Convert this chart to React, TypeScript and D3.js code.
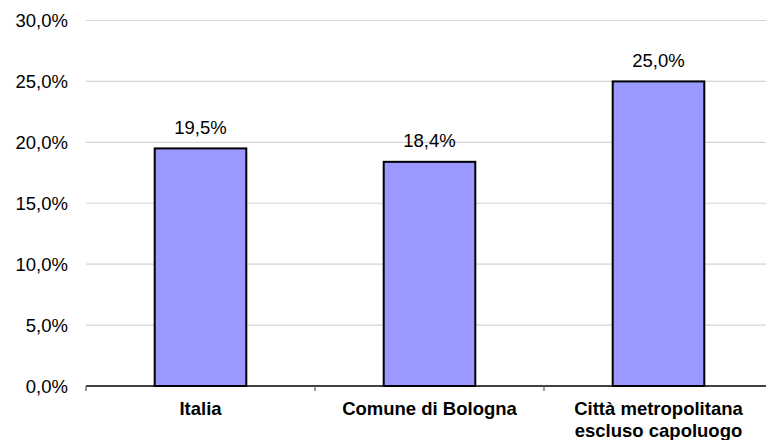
import React from "react";
import * as d3 from "d3";

const categories = ["Italia", "Comune di Bologna", "Città metropolitana\nescluso capoluogo"];
const values = [0.195, 0.184, 0.25];
const yTicks = [0, 0.05, 0.1, 0.15, 0.2, 0.25, 0.3];

const W = 766;
const H = 440;
const FONT = "'Liberation Sans', Arial, sans-serif";

const itLocale = d3.formatLocale({
  decimal: ",",
  thousands: ".",
  grouping: [3],
  currency: ["", " €"],
});
const pct = itLocale.format(".1%");

export default function App() {
  const left = 86;
  const right = 773;
  const y = d3.scaleLinear().domain([0, 0.3]).range([386, 20.5]);
  const x = d3
    .scaleBand<string>()
    .domain(categories)
    .range([left, right])
    .paddingInner(0.6)
    .paddingOuter(0.3);
  const step = x.step();
  const bw = x.bandwidth();
  const boundaries = d3.range(categories.length + 1).map((i) => left + i * step);

  return (
    <svg
      width={W}
      height={H}
      style={{ position: "absolute", left: 0, top: 0, background: "#fff" }}
      fontFamily={FONT}
    >
      {/* horizontal gridlines and value axis labels */}
      {yTicks.map((t) => (
        <g key={t}>
          {t > 0 && (
            <line x1={left} x2={right} y1={y(t)} y2={y(t)} stroke="#d4d4d4" strokeWidth={1.2} />
          )}
          <text
            x={68}
            y={y(t)}
            dy="0.36em"
            textAnchor="end"
            fontSize={18.5}
            fill="#000"
          >
            {pct(t)}
          </text>
        </g>
      ))}

      {/* bars */}
      {categories.map((c, i) => (
        <rect
          key={c}
          x={x(c)!}
          y={y(values[i])}
          width={bw}
          height={y(0) - y(values[i])}
          fill="#9999ff"
          stroke="#000"
          strokeWidth={2}
        />
      ))}

      {/* category axis */}
      <line x1={left} x2={right} y1={y(0)} y2={y(0)} stroke="#000" strokeWidth={1.5} />
      {boundaries.map((bx) => (
        <line key={bx} x1={bx} x2={bx} y1={y(0)} y2={y(0) + 5} stroke="#666" strokeWidth={1.3} />
      ))}

      {/* value labels */}
      {categories.map((c, i) => (
        <text
          key={c}
          x={x(c)! + bw / 2}
          y={y(values[i]) - 14.5}
          textAnchor="middle"
          fontSize={18.5}
          fill="#000"
        >
          {pct(values[i])}
        </text>
      ))}

      {/* category labels */}
      {categories.map((c) => (
        <text
          key={c}
          x={x(c)! + bw / 2}
          y={415}
          textAnchor="middle"
          fontSize={18.5}
          fontWeight="bold"
          fill="#000"
        >
          {c.split("\n").map((line, j) => (
            <tspan key={j} x={x(c)! + bw / 2} dy={j === 0 ? 0 : 21.5}>
              {line}
            </tspan>
          ))}
        </text>
      ))}
    </svg>
  );
}
